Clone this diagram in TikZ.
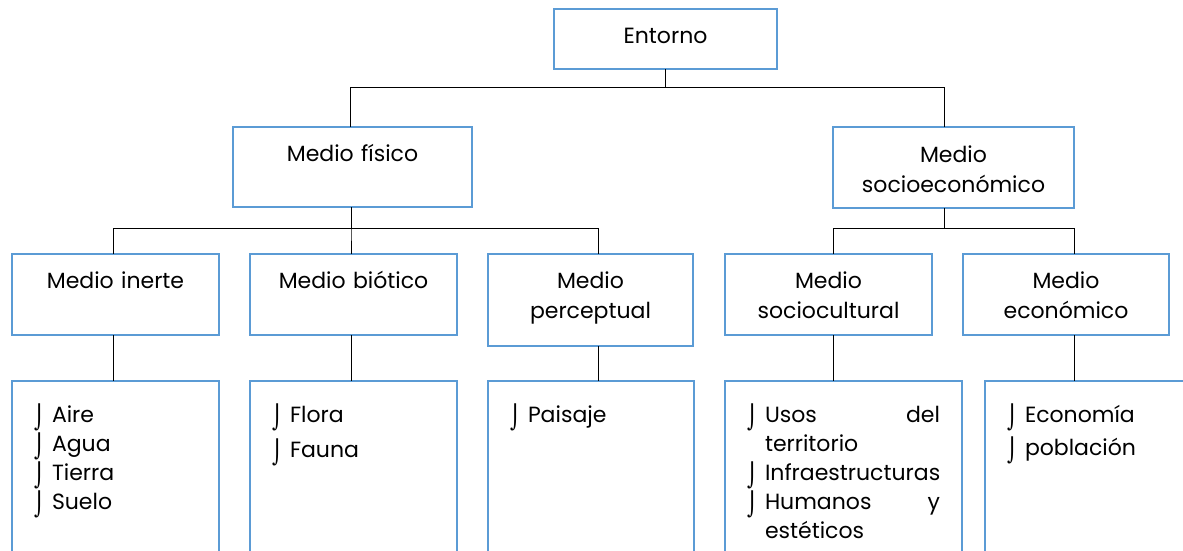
\documentclass[tikz,border=0pt]{standalone}
\usepackage{fontspec}
\usepackage{graphicx}
\setmainfont{Poppins}
\newfontfamily\symfont{DejaVu Sans}
\definecolor{boxblue}{RGB}{91,155,213}
\newcommand{\bul}{\smash{\raisebox{-3pt}{\scalebox{0.9}[1.05]{\symfont\char"2321}}}\rule[-7pt]{0pt}{29pt}}
\newcommand{\itm}{\par\noindent\hangindent=18pt\hangafter=1\makebox[18pt][l]{\bul}}
\tikzset{
    hdr/.style={draw=boxblue, fill=white, line width=1.6pt, inner sep=0pt, outer sep=0pt,
        anchor=north west, align=center, font=\fontsize{22}{30}\selectfont},
    lst/.style={hdr, align=left, inner xsep=22pt, text height=12pt, text depth=182pt,
        font=\fontsize{22}{29}\selectfont},
    link/.style={black, line width=0.8pt}
}
\begin{document}
\begin{tikzpicture}[x=1pt, y=1pt]
        \useasboundingbox (0,0) rectangle (1183,-550);
        \clip (0,0) rectangle (1183,-550);

        \node[hdr, text width=223pt, text height=34pt, text depth=26pt] (entorno) at (554,-9) {Entorno};
        \node[hdr, text width=239pt, text height=34pt, text depth=46pt] (fisico) at (233,-127) {Medio físico};
        \node[hdr, text width=241pt, text height=35pt, text depth=46pt] (socio) at (833,-127) {Medio\\socioeconómico};

        \node[hdr, text width=207pt, text height=34pt, text depth=47pt] (inerte) at (12,-254) {Medio inerte};
        \node[hdr, text width=207pt, text height=34pt, text depth=47pt] (biotico) at (250,-254) {Medio biótico};
        \node[hdr, text width=205pt, text height=34pt, text depth=58pt] (perceptual) at (488,-254) {Medio\\perceptual};
        \node[hdr, text width=207pt, text height=34pt, text depth=47pt] (sociocult) at (725,-254) {Medio\\sociocultural};
        \node[hdr, text width=206pt, text height=34pt, text depth=47pt] (economico) at (963,-254) {Medio\\económico};

        \node[lst, text width=163pt] (aire) at (12,-381) {\itm Aire \itm Agua \itm Tierra \itm Suelo\par};
        \node[lst, text width=163pt, text height=6pt, text depth=188pt] (flora) at (250,-381)
            {\setlength{\parskip}{6pt}\itm Flora \itm Fauna\par};
        \node[lst, text width=162pt] (paisaje) at (488,-381) {\itm Paisaje\par};
        \node[lst, text width=193pt] (usos) at (725,-381)
            {\itm Usos\hfill del\newline territorio \itm Infraestructuras \itm Humanos\hfill y\newline estéticos\par};
        \node[lst, text width=186pt, text height=8pt, text depth=186pt] (economia) at (985,-381)
            {\setlength{\parskip}{4pt}\itm Economía \itm población\par};

        \draw[link] (entorno.south) -- ++(0,-18) -| ([xshift=-2.5]fisico.north);
        \draw[link] (entorno.south) -- ++(0,-18) -| ([xshift=-9.5]socio.north);

        \draw[link] ([xshift=-1.5]fisico.south) -- ++(0,-21) -| ([xshift=-2.5]inerte.north);
        \draw[link] ([xshift=-1.5]fisico.south) -- ++(0,-21) -| ([xshift=-2.5]biotico.north);
        \draw[link] ([xshift=-1.5]fisico.south) -- ++(0,-21) -| ([xshift=7.5]perceptual.north);
        \draw[link] ([xshift=-9.5]socio.south) -- ++(0,-20) -| ([xshift=4.5]sociocult.north);
        \draw[link] ([xshift=-9.5]socio.south) -- ++(0,-20) -| ([xshift=8]economico.north);

        \draw[link] ([xshift=-2.5]inerte.south) -- ([xshift=-2.5]inerte.south |- aire.north);
        \draw[link] ([xshift=-2.5]biotico.south) -- ([xshift=-2.5]biotico.south |- flora.north);
        \draw[link] ([xshift=7.5]perceptual.south) -- ([xshift=7.5]perceptual.south |- paisaje.north);
        \draw[link] ([xshift=4.5]sociocult.south) -- ([xshift=4.5]sociocult.south |- usos.north);
        \draw[link] ([xshift=8]economico.south) -- ([xshift=8]economico.south |- economia.north);
    \end{tikzpicture}
\end{document}
